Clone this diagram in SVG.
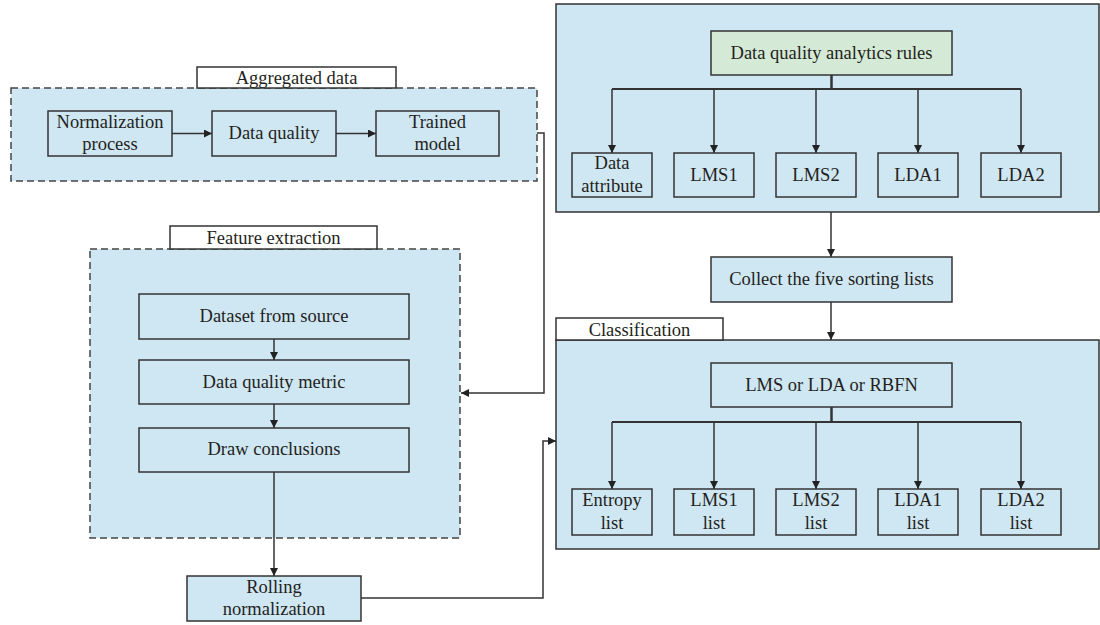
<svg xmlns="http://www.w3.org/2000/svg" width="1100" height="625" viewBox="0 0 1100 625">
  <defs>
    <marker id="arr" viewBox="0 0 10 10" refX="10" refY="5" markerWidth="8" markerHeight="8" markerUnits="userSpaceOnUse" orient="auto">
      <path d="M0,0 L10,5 L0,10 z" fill="#222"/>
    </marker>
    <style>
      .txt { font-family: "Liberation Serif", "Times New Roman", serif; font-size: 18.5px; fill: #231f20; text-anchor: middle; }
      .box { fill: #cfe6f3; stroke: #333; stroke-width: 1.5; }
      .green { fill: #d5ead6; stroke: #333; stroke-width: 1.5; }
      .label { fill: #ffffff; stroke: #333; stroke-width: 1.5; }
      .dash { fill: #cfe6f3; stroke: #444; stroke-width: 1.5; stroke-dasharray: 7 4; }
      .panel { fill: #cfe6f3; stroke: #333; stroke-width: 1.5; }
      .conn { fill: none; stroke: #333; stroke-width: 1.5; }
    </style>
  </defs>

  <rect width="1100" height="625" fill="#ffffff"/>

  <!-- Containers -->
  <g id="aggregated-group">
    <rect class="dash" x="11" y="88" width="526" height="93"/>
    <rect class="label" x="197" y="67" width="199" height="21"/>
    <text class="txt" x="296.5" y="84">Aggregated data</text>
  </g>
  <g id="feature-group">
    <rect class="dash" x="90" y="249" width="370" height="289"/>
    <rect class="label" x="170" y="226" width="207" height="23"/>
    <text class="txt" x="273.5" y="244">Feature extraction</text>
  </g>
  <g id="rules-panel">
    <rect class="panel" x="556" y="4" width="543" height="208"/>
  </g>
  <g id="classification-panel">
    <rect class="panel" x="556" y="340" width="543" height="209"/>
    <rect class="label" x="556" y="318" width="167" height="22"/>
    <text class="txt" x="639.5" y="336">Classification</text>
  </g>

  <!-- Connectors -->
  <g id="connectors">
    <path class="conn" d="M172,133.5 H212" marker-end="url(#arr)"/>
    <path class="conn" d="M336,133.5 H376" marker-end="url(#arr)"/>
    <path class="conn" d="M537,133 H544 V393 H461" marker-end="url(#arr)"/>
    <path class="conn" d="M274,339 V360" marker-end="url(#arr)"/>
    <path class="conn" d="M274,404 V428" marker-end="url(#arr)"/>
    <path class="conn" d="M274,472 V576" marker-end="url(#arr)"/>
    <path class="conn" d="M361,598 H543 V441 H556" marker-end="url(#arr)"/>

    <path class="conn" d="M831.5,75 V89" style="stroke-width:2.5"/>
    <path class="conn" d="M612,89 H1021" style="stroke-width:2"/>
    <path class="conn" d="M612,89 V153" marker-end="url(#arr)"/>
    <path class="conn" d="M714,89 V153" marker-end="url(#arr)"/>
    <path class="conn" d="M816,89 V153" marker-end="url(#arr)"/>
    <path class="conn" d="M918,89 V153" marker-end="url(#arr)"/>
    <path class="conn" d="M1021,89 V153" marker-end="url(#arr)"/>

    <path class="conn" d="M831,212 V257" marker-end="url(#arr)"/>
    <path class="conn" d="M831,302 V340" marker-end="url(#arr)"/>

    <path class="conn" d="M831.5,407 V422" style="stroke-width:2.5"/>
    <path class="conn" d="M612,422 H1021" style="stroke-width:2"/>
    <path class="conn" d="M612,422 V489" marker-end="url(#arr)"/>
    <path class="conn" d="M714,422 V489" marker-end="url(#arr)"/>
    <path class="conn" d="M816,422 V489" marker-end="url(#arr)"/>
    <path class="conn" d="M918,422 V489" marker-end="url(#arr)"/>
    <path class="conn" d="M1021,422 V489" marker-end="url(#arr)"/>
  </g>

  <!-- Aggregated data nodes -->
  <g id="normalization-process">
    <rect class="box" x="48" y="111" width="124" height="45"/>
    <text class="txt" x="110" y="128">Normalization</text>
    <text class="txt" x="110" y="150">process</text>
  </g>
  <g id="data-quality">
    <rect class="box" x="212" y="111" width="124" height="45"/>
    <text class="txt" x="274" y="139">Data quality</text>
  </g>
  <g id="trained-model">
    <rect class="box" x="376" y="111" width="123" height="45"/>
    <text class="txt" x="437.5" y="128">Trained</text>
    <text class="txt" x="437.5" y="150">model</text>
  </g>

  <!-- Feature extraction nodes -->
  <g id="dataset-from-source">
    <rect class="box" x="139" y="294" width="270" height="45"/>
    <text class="txt" x="274" y="322">Dataset from source</text>
  </g>
  <g id="data-quality-metric">
    <rect class="box" x="139" y="360" width="270" height="44"/>
    <text class="txt" x="274" y="388">Data quality metric</text>
  </g>
  <g id="draw-conclusions">
    <rect class="box" x="139" y="428" width="270" height="44"/>
    <text class="txt" x="274" y="455">Draw conclusions</text>
  </g>
  <g id="rolling-normalization">
    <rect class="box" x="187" y="576" width="174" height="45"/>
    <text class="txt" x="274" y="593">Rolling</text>
    <text class="txt" x="274" y="615">normalization</text>
  </g>

  <!-- Rules panel nodes -->
  <g id="dq-analytics-rules">
    <rect class="green" x="711" y="31" width="241" height="44"/>
    <text class="txt" x="831.5" y="59">Data quality analytics rules</text>
  </g>
  <g id="data-attribute">
    <rect class="box" x="572" y="153" width="80" height="44"/>
    <text class="txt" x="612" y="169">Data</text>
    <text class="txt" x="612" y="192">attribute</text>
  </g>
  <g id="lms1">
    <rect class="box" x="674" y="153" width="80" height="44"/>
    <text class="txt" x="714" y="181">LMS1</text>
  </g>
  <g id="lms2">
    <rect class="box" x="776" y="153" width="80" height="44"/>
    <text class="txt" x="816" y="181">LMS2</text>
  </g>
  <g id="lda1">
    <rect class="box" x="878" y="153" width="80" height="44"/>
    <text class="txt" x="918" y="181">LDA1</text>
  </g>
  <g id="lda2">
    <rect class="box" x="981" y="153" width="80" height="44"/>
    <text class="txt" x="1021" y="181">LDA2</text>
  </g>

  <g id="collect-lists">
    <rect class="box" x="711" y="257" width="241" height="45"/>
    <text class="txt" x="831.5" y="285">Collect the five sorting lists</text>
  </g>

  <!-- Classification nodes -->
  <g id="lms-lda-rbfn">
    <rect class="box" x="711" y="363" width="241" height="44"/>
    <text class="txt" x="831.5" y="391">LMS or LDA or RBFN</text>
  </g>
  <g id="entropy-list">
    <rect class="box" x="572" y="489" width="80" height="46"/>
    <text class="txt" x="612" y="506">Entropy</text>
    <text class="txt" x="612" y="529">list</text>
  </g>
  <g id="lms1-list">
    <rect class="box" x="674" y="489" width="80" height="46"/>
    <text class="txt" x="714" y="506">LMS1</text>
    <text class="txt" x="714" y="529">list</text>
  </g>
  <g id="lms2-list">
    <rect class="box" x="776" y="489" width="80" height="46"/>
    <text class="txt" x="816" y="506">LMS2</text>
    <text class="txt" x="816" y="529">list</text>
  </g>
  <g id="lda1-list">
    <rect class="box" x="878" y="489" width="80" height="46"/>
    <text class="txt" x="918" y="506">LDA1</text>
    <text class="txt" x="918" y="529">list</text>
  </g>
  <g id="lda2-list">
    <rect class="box" x="981" y="489" width="80" height="46"/>
    <text class="txt" x="1021" y="506">LDA2</text>
    <text class="txt" x="1021" y="529">list</text>
  </g>
</svg>
